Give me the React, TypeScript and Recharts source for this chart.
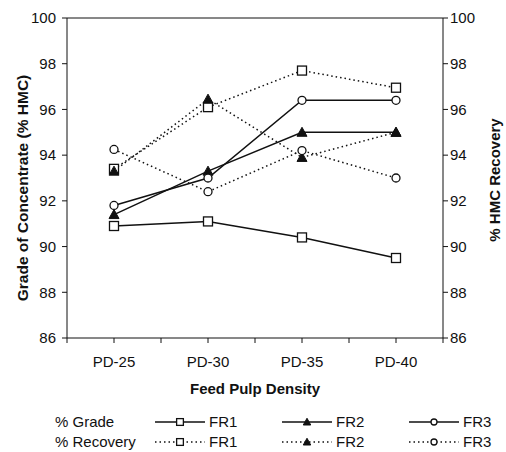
import React from "react"
import { LineChart, Line, XAxis, YAxis, ReferenceLine } from "recharts"

const categories = ["PD-25", "PD-30", "PD-35", "PD-40"]
const gradeFR1 = [90.9, 91.1, 90.4, 89.5]
const gradeFR2 = [91.4, 93.3, 95.0, 95.0]
const gradeFR3 = [91.8, 93.0, 96.4, 96.4]
const recoveryFR1 = [93.4, 96.1, 97.7, 96.95]
const recoveryFR2 = [93.3, 96.45, 93.9, 95.0]
const recoveryFR3 = [94.25, 92.4, 94.2, 93.0]
const yTicks = [86, 88, 90, 92, 94, 96, 98, 100]
const xTicks = [0.5, 1, 1.5, 2, 2.5, 3, 3.5, 4, 4.5]

const data = categories.map((name, i) => ({
  x: i + 1,
  name,
  gFR1: gradeFR1[i],
  gFR2: gradeFR2[i],
  gFR3: gradeFR3[i],
  rFR1: recoveryFR1[i],
  rFR2: recoveryFR2[i],
  rFR3: recoveryFR3[i],
}))

const INK = "#111"
const FONT = "'Liberation Sans', Arial, sans-serif"
const DOTTED = "1.5 3"

type Shape = "square" | "triangle" | "circle"

function Marker({ shape, cx, cy, size = 1 }: { shape: Shape; cx: number; cy: number; size?: number }) {
  if (cx == null || cy == null) return null
  if (shape === "square") {
    const s = 4.5 * size
    return <rect x={cx - s} y={cy - s} width={s * 2} height={s * 2} fill="#fff" stroke={INK} strokeWidth={1.3} />
  }
  if (shape === "triangle") {
    const s = 5 * size
    return (
      <polygon
        points={`${cx},${cy - s} ${cx + s},${cy + s * 0.8} ${cx - s},${cy + s * 0.8}`}
        fill={INK}
        stroke={INK}
        strokeWidth={1}
      />
    )
  }
  return <circle cx={cx} cy={cy} r={4 * size} fill="#fff" stroke={INK} strokeWidth={1.3} />
}

const dotFor = (shape: Shape) => (props: any) => (
  <Marker key={`${shape}-${props.index}`} shape={shape} cx={props.cx} cy={props.cy} />
)

// rotated axis title, placed inside the axis box
const sideTitle = (text: string, fromLeft: number, shiftY: number, size: number) => (props: any) => {
  const vb = props.viewBox
  const cx = vb.x + fromLeft
  const cy = vb.y + vb.height / 2 + shiftY
  return (
    <text
      x={cx}
      y={cy}
      dy="0.35em"
      transform={`rotate(-90, ${cx}, ${cy})`}
      textAnchor="middle"
      fontSize={size}
      fontWeight="bold"
      fontFamily={FONT}
      fill={INK}
    >
      {text}
    </text>
  )
}

const legendCols = [
  { label: "FR1", shape: "square" as Shape },
  { label: "FR2", shape: "triangle" as Shape },
  { label: "FR3", shape: "circle" as Shape },
]
const legendRows = [
  { label: "% Grade", dash: undefined as string | undefined },
  { label: "% Recovery", dash: DOTTED },
]

function LegendBlock() {
  const colX = [155, 282, 409]
  const rowY = [422, 442]
  return (
    <svg width={506} height={452} style={{ position: "absolute", left: 0, top: 0, pointerEvents: "none" }}>
      {legendRows.map((row, r) => (
        <g key={row.label}>
          <text x={55} y={rowY[r]} dy="0.35em" fontSize={15} fontFamily={FONT} fill={INK}>
            {row.label}
          </text>
          {legendCols.map((col, c) => (
            <g key={col.label}>
              <line
                x1={colX[c]}
                x2={colX[c] + 50}
                y1={rowY[r]}
                y2={rowY[r]}
                stroke={INK}
                strokeWidth={1.3}
                strokeDasharray={row.dash}
              />
              <Marker shape={col.shape} cx={colX[c] + 25} cy={rowY[r]} size={0.75} />
              <text x={colX[c] + 54} y={rowY[r]} dy="0.35em" fontSize={15} fontFamily={FONT} fill={INK}>
                {col.label}
              </text>
            </g>
          ))}
        </g>
      ))}
    </svg>
  )
}

const tickStyle = { fontSize: 15, fill: INK, fontFamily: FONT }

export default function App() {
  return (
    <div style={{ position: "absolute", left: 0, top: 0, width: 506, height: 452, background: "#fff" }}>
      <LineChart width={506} height={452} data={data} margin={{ top: 18, right: 10, bottom: 54, left: 10 }}>
        <XAxis
          dataKey="x"
          type="number"
          domain={[0.5, 4.5]}
          ticks={xTicks}
          tickFormatter={(v: number) => (Number.isInteger(v) ? categories[v - 1] : "")}
          height={60}
          tickSize={5}
          tickMargin={13}
          stroke={INK}
          tick={tickStyle}
          label={{
            value: "Feed Pulp Density",
            position: "insideBottom",
            offset: 4,
            style: { fontSize: 15, fontWeight: "bold", fill: INK, fontFamily: FONT },
          }}
        />
        <YAxis
          yAxisId="left"
          domain={[86, 100]}
          ticks={yTicks}
          width={57}
          tickSize={5}
          tickMargin={6}
          stroke={INK}
          tick={tickStyle}
          label={{ content: sideTitle("Grade of Concentrate (% HMC)", 13, 10, 15.5) }}
        />
        <YAxis
          yAxisId="right"
          orientation="right"
          domain={[86, 100]}
          ticks={yTicks}
          width={53}
          tickSize={5}
          tickMargin={2}
          stroke={INK}
          tick={tickStyle}
          label={{ content: sideTitle("% HMC Recovery", 52, 2, 15) }}
        />
        <ReferenceLine yAxisId="left" y={100} stroke={INK} />
        <Line yAxisId="left" dataKey="gFR1" stroke={INK} strokeWidth={1.5} dot={dotFor("square")} isAnimationActive={false} />
        <Line yAxisId="left" dataKey="gFR2" stroke={INK} strokeWidth={1.5} dot={dotFor("triangle")} isAnimationActive={false} />
        <Line yAxisId="left" dataKey="gFR3" stroke={INK} strokeWidth={1.5} dot={dotFor("circle")} isAnimationActive={false} />
        <Line yAxisId="right" dataKey="rFR1" stroke={INK} strokeWidth={1.5} strokeDasharray={DOTTED} dot={dotFor("square")} isAnimationActive={false} />
        <Line yAxisId="right" dataKey="rFR2" stroke={INK} strokeWidth={1.5} strokeDasharray={DOTTED} dot={dotFor("triangle")} isAnimationActive={false} />
        <Line yAxisId="right" dataKey="rFR3" stroke={INK} strokeWidth={1.5} strokeDasharray={DOTTED} dot={dotFor("circle")} isAnimationActive={false} />
      </LineChart>
      <LegendBlock />
    </div>
  )
}
